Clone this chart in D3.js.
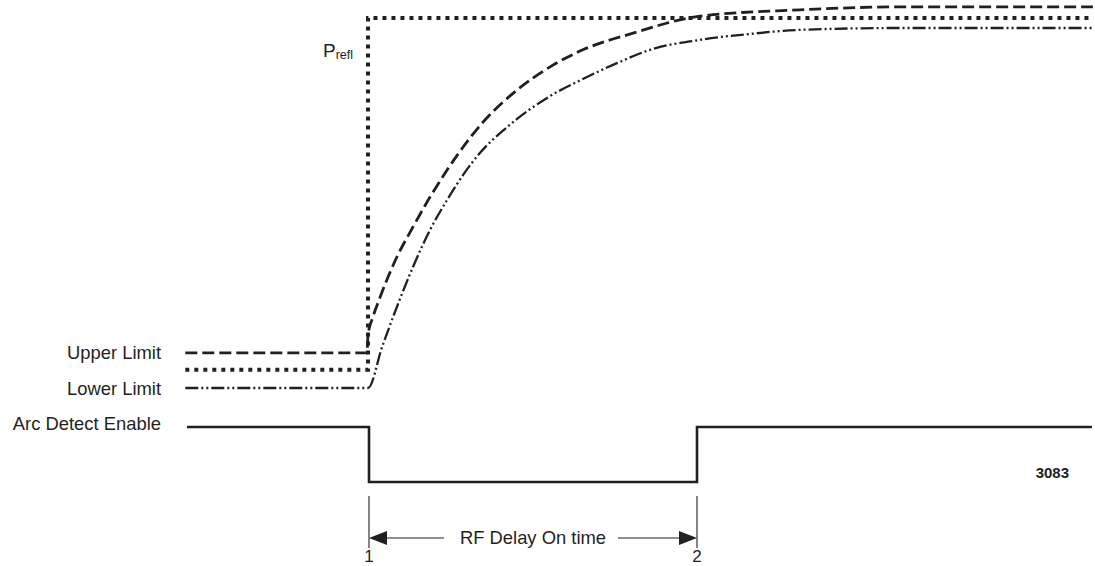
<!DOCTYPE html>
<html><head><meta charset="utf-8">
<script src="https://cdn.jsdelivr.net/npm/d3@7"></script>
<style>
html,body{margin:0;padding:0;background:#fff;}
svg{display:block;}
text{font-family:Arial,"Liberation Sans",Helvetica,sans-serif;fill:#231f20;}
</style></head><body>
<svg id="chart" width="1095" height="566"></svg>
<script>
// Time is expressed in percent of the RF delay: event 1 at 0, event 2 at 100.
const events = [{id: "1", t: 0}, {id: "2", t: 100}];
const delayLabel = "RF Delay On time";
const figureId = "3083";

// Analog levels in percent of the settled reflected power.
const upperLimit = [
  [-56, 9.5], [-0.6, 9.5], [-0.3, 14.3], [1.2, 19.2], [3.4, 24.6], [5.8, 30],
  [8.5, 35.4], [13.4, 43.5], [18.6, 51.6], [23.8, 58.9], [30.8, 67.6], [34.8, 71.9],
  [40.9, 77.3], [45.1, 80.5], [55.2, 86.8], [65.2, 91.4], [80.5, 95.9], [100.9, 100.5],
  [131.4, 102.2], [161.9, 103], [220.7, 103]
];
const lowerLimit = [
  [-56, 0], [-0.3, 0], [4, 11.1], [8.5, 21.9], [13.4, 32.7], [18.6, 42.7], [23.8, 50.8],
  [28.7, 57.6], [33.8, 63.5], [42.1, 70.5], [55.2, 78.9], [65.2, 83.5], [75.6, 87.8],
  [85.7, 91.4], [100.9, 94.1], [116.2, 95.7], [131.4, 96.8], [161.9, 97.3], [220.7, 97.3]
];
const reflectedPower = [[-56, 4.9], [-0.3, 4.9], [-0.3, 100], [220.7, 100]];

// Logic signal: 1 = enabled, 0 = disabled.
const arcDetectEnable = [[-55.5, 1], [0, 1], [0, 0], [100, 0], [100, 1], [220.4, 1]];

const traceNames = ["Upper Limit", "Lower Limit", "Arc Detect Enable"];

const svg = d3.select("#chart");
const ink = "#231f20";

const x = d3.scaleLinear().domain([0, 100]).range([369, 697]);
const y = d3.scaleLinear().domain([0, 100]).range([388, 18]);
const yLogic = d3.scaleLinear().domain([0, 1]).range([482, 427]);

const smooth = d3.line().x(d => x(d[0])).y(d => y(d[1])).curve(d3.curveMonotoneX);
const straight = d3.line().x(d => x(d[0])).y(d => y(d[1]));
const logic = d3.line().x(d => x(d[0])).y(d => yLogic(d[1]));

// Reflected power (square dots)
svg.append("path").attr("d", straight(reflectedPower))
  .attr("fill", "none").attr("stroke", ink).attr("stroke-width", 4)
  .attr("stroke-dasharray", "4,5");

// Upper limit (long dashes)
svg.append("path").attr("d", smooth(upperLimit))
  .attr("fill", "none").attr("stroke", ink).attr("stroke-width", 2.8)
  .attr("stroke-dasharray", "12,5");

// Lower limit (dash-dot-dot)
svg.append("path").attr("d", smooth(lowerLimit))
  .attr("fill", "none").attr("stroke", ink).attr("stroke-width", 2.3)
  .attr("stroke-dasharray", "13,3,2,3,2,3");

// Arc detect enable logic trace
svg.append("path").attr("d", logic(arcDetectEnable))
  .attr("fill", "none").attr("stroke", ink).attr("stroke-width", 2.6)
  .attr("stroke-linejoin", "miter");

// Trace labels
const labelX = 161;
const labelYs = [y(upperLimit[0][1]) + 6.5, y(lowerLimit[0][1]) + 7, yLogic(1) + 3];
svg.selectAll("text.trace").data(traceNames).join("text")
  .attr("class", "trace")
  .attr("x", labelX).attr("y", (d, i) => labelYs[i])
  .attr("text-anchor", "end").attr("font-size", 18.4)
  .text(d => d);

// P_refl label
const pl = svg.append("text").attr("x", x(-0.3) - 45).attr("y", 57).attr("font-size", 19);
pl.append("tspan").text("P");
pl.append("tspan").attr("font-size", 12.5).attr("dy", 2).text("refl");

// Event markers and delay dimension
const dimY = 538;
svg.selectAll("line.evt").data(events).join("line")
  .attr("class", "evt")
  .attr("x1", d => x(d.t)).attr("x2", d => x(d.t))
  .attr("y1", 496).attr("y2", 548)
  .attr("stroke", ink).attr("stroke-width", 1.1);

svg.selectAll("text.evt").data(events).join("text")
  .attr("class", "evt")
  .attr("x", d => x(d.t)).attr("y", 562)
  .attr("text-anchor", "middle").attr("font-size", 17)
  .text(d => d.id);

const x1 = x(events[0].t), x2 = x(events[1].t);
const mid = (x1 + x2) / 2;
const headL = 18, headH = 7;
svg.append("line").attr("x1", x1 + headL).attr("x2", mid - 89).attr("y1", dimY).attr("y2", dimY)
  .attr("stroke", ink).attr("stroke-width", 1.1);
svg.append("line").attr("x1", mid + 85).attr("x2", x2 - headL).attr("y1", dimY).attr("y2", dimY)
  .attr("stroke", ink).attr("stroke-width", 1.1);
svg.append("path")
  .attr("d", `M${x1},${dimY} L${x1 + headL},${dimY - headH} L${x1 + headL},${dimY + headH} Z`)
  .attr("fill", ink);
svg.append("path")
  .attr("d", `M${x2},${dimY} L${x2 - headL},${dimY - headH} L${x2 - headL},${dimY + headH} Z`)
  .attr("fill", ink);
svg.append("text").attr("x", mid).attr("y", dimY + 6)
  .attr("text-anchor", "middle").attr("font-size", 18.4)
  .text(delayLabel);

// Figure number
svg.append("text").attr("x", 1069).attr("y", 478)
  .attr("text-anchor", "end").attr("font-size", 15).attr("font-weight", "bold")
  .text(figureId);
</script>
</body></html>
